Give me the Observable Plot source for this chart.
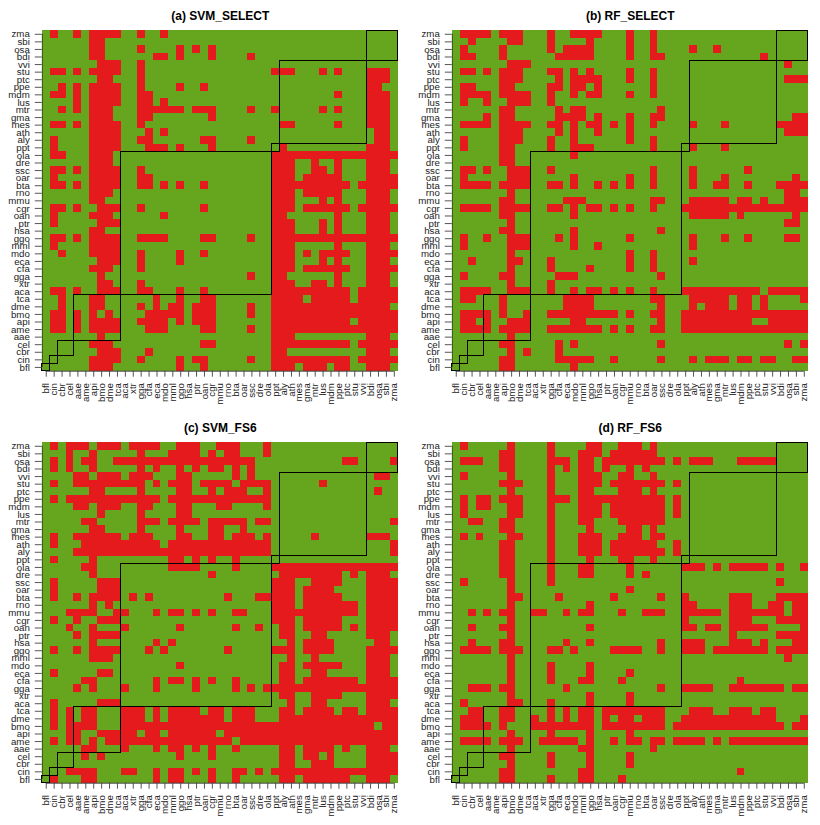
<!DOCTYPE html>
<html><head><meta charset="utf-8">
<script src="https://cdn.jsdelivr.net/npm/d3@7"></script>
<script src="https://cdn.jsdelivr.net/npm/@observablehq/plot@0.6"></script>
<style>
html,body{margin:0;padding:0;background:#fff}
#root{position:relative;width:820px;height:825px;overflow:hidden}
#root svg{position:absolute;background:none;overflow:visible}
</style></head><body><div id="root"></div>
<script>
const species = ["bfl","cin","cbr","cel","aae","ame","api","bmo","dme","tca","aca","xtr","gga","cfa","eca","mdo","mml","ggo","hsa","ptr","oan","cgr","mmu","rno","bta","oar","ssc","dre","ola","ppt","aly","ath","mes","gma","mtr","lus","mdm","ppe","ptc","stu","vvi","bdi","osa","sbi","zma"];
const groupSizes = [1,1,2,6,19,1,11,4];
const titles = ["(a) SVM_SELECT","(b) RF_SELECT","(c) SVM_FS6","(d) RF_FS6"];
// each list: red column indexes per row, rows from zma (top) down to bfl (bottom)
const svmSelect = [
"1,4,6-9,12,15","6,7","6,7,12,17,19,21","6,7,14,15,17,21,26","7-9,12","1,2,4,6-9,12,29-31,35,37,41-43","7,8,12,41-43","2,4,6-9,12,17,20,41,42","1,2,4,6-9,12,13,37,41-43","4,6-9,12,13,15,41-43","2,4,6-8,12-17,19-21,26,29,35,37,41-43","6-8,12,13,21,41-43","1,2,4,6-9,12,30,31,37,41-43","6-9,13,15,42,43","1,6-9,12,13,20,21,26,42,43","1,6-9,13-15,17,21,30,41-43",
"1,2,6-8,29-44","6-8,29-31,34,37,41-43","1,2,4,6-9,12,29-31,34,35,37,41-43","1,6-9,12,13,29-31,33-37,41-44","1,2,4,6-9,12,13,15,17,20,29-38,40-44","6-8,29-31,33-37,41-43","6,7,29-31,35,37,41-43","1,2,4,7-9,12,20,29-31,33-38,40-44",
"1,6-8,15,29,30,37,41-43","1,7-9,29-31,35,37,41-43","6,7,29-31,35,37,41-43","1,2,4,6-9,12-15,20,21,26,29-44","1,6-9,29-31,37,41-43","2,6-9,12,17,20,29-31,33,35-38,41-44","7-9,12,17,29-31,35,37,41-43","6-8,12,29-31,33-38,41-44","7,26,29,30,37,41-43","7,8,12,29-31,34,35,37,41-43","1,2,4,7-9,12,13,17,20,29-38,40-44",
"2,6,7,14,17,20,21,29-32,34-38,40-44","2,6,7,12,14,16,17,19-21,26,29-43","1,2,4,6,8,13-17,19-21,26,29-44","1,2,4,6-9,12-15,17,19-21,29-38,40-44","1,2,4,6-9,13-15,20,21,26,29-44","7,29-31,41-43","6-8,20,21,29-38,40-44","7-9,13,29,30,41-43","6-9,12,17,19,20,26,29-38,40-44","6-8,17,20,29-31,33-35,37,38,41-43"];
const rfSelect = [
"1-4,6-8,12,15-18,22,25","2,7,8,12,17,22,25","1,6,12,14-17,22,25,30,33","1,2,6,13-17,22,25,26,39","7-9,42","1,2,4,6-8,12,13,15,17,22,25","6-8,13,15-18,22,25,42-44","1,2,6,7,12,13,15,16,18,25","1-4,6-9,12,15,17,18,22,25","1,4,7-9,12","6,7,13,15,16,26","4,6,7,13-16,18,22,25,26,43,44","1-4,6-9,12,13,15,17,18,20,22,25,30,34,41-44","6-8,13,15,18,22,42-44","1,6-8,12,15,22,25","1,6,7,12,15-17,25,30,34",
"6,7,15","6,7","1,2,4,7-9,12,25,30,37","1,7-9,15,22,25,30,34,43","1-4,6-9,12,13,15,18,20,22,25,30,33,34,37,41-44","7,42,43","6,7,14-16,25,26,30-34,36,37,39,42-44","1-4,6-9,12,13,15,17,18,20,22,25,29-44",
"6,7,15,30-34,36,43","7,42,43","6,7,15,26","1,4,7-9,13,15,22,30,34,37,42,43","1,7-9,15,18,30","7,22,25","2,7,8,12,22,25,30","7,12,17,22,25","1,6,7,13-15,26","7,12","1-4,7-9,12,15,17,18,20,22,25,29-38,40-44",
"1,2,6,14-17,25,26,30-34,36,37,39,44","6,14-17,26,30,32-34,36,37,39","1-4,6,9,12-20,22,25,26,29-44","1,2,4,7-9,15,16,26,29-37,40-44","1-4,6-9,12-18,20,22,25,26,29-44","7","6,7,13,15,26,42,44","7,9,13","6,7,13-17,20,26,30,32-34,36,37,39,40,43,44","6,7,15"];
const svmFs6 = [
"1,3-5,7-9,11-13,14,17-19,22-24,28","3,6,12,16-19,21,23,24,28","1,3,5,6,9-26,38,39,44","1,3,6,12,14,17,19,21,22,24,26","4,5,7-9,11-13,17,18,24,26,42,43","1,4-12,14,16-18,20-23,25-28,35","6,7,12,17,18,21,23-25,28,42","1,3-14,16-28","4,5,7-9,12,13,17,18,22,23,28","7,12,17,18","5,6,12-14,16-19,21-25,27,28,44","6,7,12,17,21,22,25","1,4-9,11-13,17,18,21,22,24-26,28,34,41-43","1,5-14,16-28,44","4-28,44","1,6,16,17,19,21,24",
"5,6,16-19,24,29-44","6,21,30-37,39,41-43","1,7-9,29-31,34-37,41-44","1,7-9,29-31,33-36,41-44","1,4,6-9,11,13,23,27-31,33-37,41-44","6,8,29-31,33-39,41-44","3-6,9,10,14,16,17,19,21,24,25,29-39,41-44","1,4,7-9,29-31,33-37,41-44",
"3,6,10,17,24,27,30,31,33-37,39,41-44","4,6-9,30,31,34,35,41-43","6,14,16,31,33-36,42,43","1,4,6-9,13,15,23,29-31,33-36,41-44","6-8,31,34,41-43","17,30,31,33-37,41-43","1,7,8,30,31,34,35,41-43","5,6,14,16,17,19,21,24,30,31,33-39,41-44","4,6,10,14,19,24,26,28-44","30,31,34-37,41-44","1,7-9,31,34,35,41-43",
"1,3,5,6,10-12,14,16-19,21,22,24-26,30,31,33-36,38,39,41-44","1,3,5,6,10-12,14,16-22,24-26,30-44","1,3-6,10-41,43,44","3,4,7-11,13,14,16-21,23-44","1,3,4,6,8-23,25-44","5,6,10,14,16,17,19,21,24,30,31,33-36,38,41-43","5,7,17,21,30,31,33,34,36,41-44","30,31,34-36,41-44","3-6,10,11,14,16,17,19,21,24,25,27,29-44","1,5,6,14,16,17,21,24,30,31,33-38,41-43"];
const rfFs6 = [
"1,7,12,17,18,21-23,25","6,7,12,16-18,20-25","1-3,6,7,12-14,16,17,19-26,28,30-32,36-40","6,7,12,14,16,17,19,22,24","1,7,12,16-18,21,22,25","6-8,12,16-18,20-26,28","7,12,16,17,21-23,25","1,3,4,6-8,12-14,16-26,28","1,3,4,7,8,12,16-18,20-26,28","1,7,8,12,16-18,20-26,28","2,3,6,7,12,16,17,21-26","6,7,12,17,22,23,25","1,3,7,8,12,16-18,21-23,25,26","6,7,12,16-18,20-25,28","6,7,12,16-18,20-26,28","6,7,12,17,21,22,25",
"6,7,12,16,17,22,29-31,33,35-39,41,44","6,7,12,16,17,22,24","1,7,12,41","7,22","7,8,13,20,26,29,35-37,41-44","7,17,29,30,35-37,40,41,43,44","2,4,6,7,10,11,14,16,17,21,24-26,29-33,35-41,43,44","7,29,35-37,41-44",
"2,6,7,17,29,30,32,33,35-39,44","7,35,41-44","2,6,7,14,17,26,29-31,35-37,39,43,44","1-4,6-8,12,13,15,20-23,26,29-31,33-39,41-44","7,42","7,12,17","7,12,17,22","7,12,16,17,21,36","2-4,6,7,14,26,29-32,35-41,43,44","7,17,22","1,7,8,12,17,22",
"2,3,6,7,12,14,16,17,19-26,30-32,35-37,39,40","1-3,6,7,10,12,14,16,17,19,21,22,24-26,29-40,44","1-4,6,10-17,19-26,28-41,43,44","7,12,17,22","1-4,6-8,11-15,17,20,22,23,25,26,28-31,33,35-44","7,16,17,25","6,7,12,17,22","7,12,17,22","6,7,16,17,36","6,7,12,16,17,21"];
const panels = [svmSelect, rfSelect, svmFs6, rfFs6];
const red = "#E41A1C", green = "#66A61E";
const n = species.length;

function expand(s){const out=new Set();for(const p of s.split(",")){const [a,b]=p.split("-").map(Number);for(let i=a;i<=(b??a);i++)out.add(i);}return out;}
function cellsOf(rows){const c=[];rows.forEach((s,r)=>{const reds=expand(s);const y=n-1-r;for(let x=0;x<n;x++)c.push({x,y,red:reds.has(x)});});return c;}
const boxes=[];{let s=0;for(const g of groupSizes){boxes.push({a:s,b:s+g});s+=g;}}
const centers=d3.range(n).map(i=>i+.5);

const root=document.getElementById("root");
panels.forEach((rows,k)=>{
  const cells=cellsOf(rows);
  const svg=Plot.plot({
    width:410,height:412,
    marginLeft:41.8,marginRight:12.25,marginTop:30,marginBottom:41.3,
    style:{fontFamily:"'Liberation Sans',Arial,sans-serif",fontSize:"10px",color:"#222",background:"none"},
    x:{domain:[0,n],label:null},
    y:{domain:[0,n],label:null},
    marks:[
      Plot.rect(cells,{x1:"x",x2:d=>d.x+1,y1:"y",y2:d=>d.y+1,fill:d=>d.red?red:green,shapeRendering:"crispEdges",inset:0}),
      Plot.rect(boxes,{x1:"a",x2:"b",y1:"a",y2:"b",fill:"none",stroke:"#000",strokeWidth:1,shapeRendering:"crispEdges",inset:0}),
      Plot.axisX(centers,{anchor:"bottom",tickSize:6,tickPadding:6,tickRotate:-90,tickFormat:d=>species[d-.5],label:null,stroke:"#555",fontSize:9.7}),
      Plot.axisY(centers,{anchor:"left",tickSize:7,tickPadding:5.5,tickFormat:d=>species[d-.5],label:null,stroke:"#555",fontSize:9.7}),
      Plot.ruleX([0],{y1:centers[0],y2:centers[n-1],stroke:"#000",strokeOpacity:.5}),
      Plot.ruleY([0],{x1:centers[0],x2:centers[n-1],stroke:"#444"}),
      Plot.text([titles[k]],{frameAnchor:"top",lineAnchor:"middle",dy:-14.5,fontWeight:"bold",fontSize:12,fill:"#000"})
    ]
  });
  svg.style.left=(k%2?410:0)+"px";
  svg.style.top=(k>1?412:0)+"px";
  root.appendChild(svg);
});
</script></body></html>
